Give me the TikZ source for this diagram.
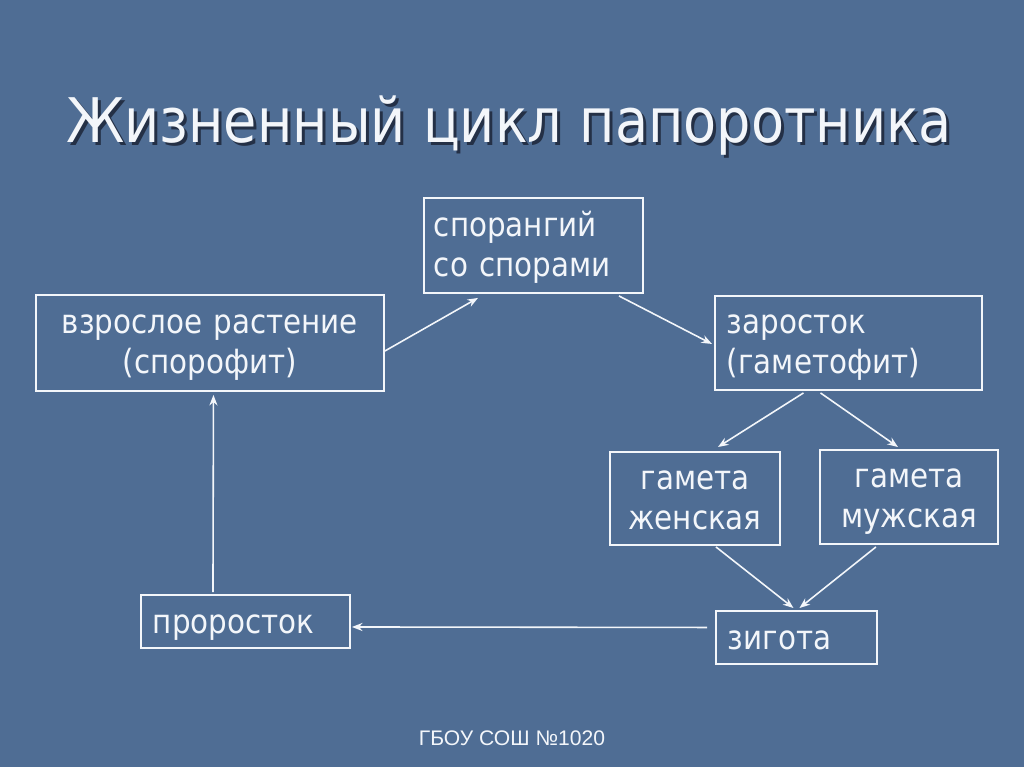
\documentclass[tikz,border=0pt]{standalone}
\usepackage{fontspec}
\setmainfont[FakeStretch = 0.88]{DejaVu Sans}
\newfontfamily\footfont{Liberation Sans}
\usetikzlibrary{arrows.meta}

\definecolor{slide}{RGB}{79,109,148}
\definecolor{chalk}{RGB}{243,246,250}
\definecolor{shade}{RGB}{36,48,70}

\begin{document}
\begin{tikzpicture}[x = 0.02cm, y = -0.02cm]

	% Definitions

	\def\U{0.02cm}	% One pixel of the slide

	\tikzset{
		box/.style = {draw = chalk, line width = 1.1pt, text = chalk, anchor = north west,
			inner ysep = 0pt, font = \fontsize{19}{22.7}\selectfont},
		twoline/.style = {text height = 26 * \U, text depth = 44 * \U},
		oneline/.style = {text height = 26 * \U, text depth = 2 * \U},
		link/.style = {draw = chalk, line width = 0.9pt, -{Stealth[length = 6pt, width = 4.6pt]}}
	}

	% Background

	\fill [slide] (0, 0) rectangle (1024, 767);

	% Title, its shadow drawn inside the same node

	\node [anchor = base west, text = chalk, font = \fontsize{35}{40}\selectfont, inner sep = 0pt] (title) at (66, 142)
		{\rlap{\hspace{0.06cm}\raisebox{-0.06cm}{\color{shade}Жизненный цикл папоротника}}Жизненный цикл папоротника};

	% Stages of the cycle

	\node [box, twoline, minimum width = 219 * \U, minimum height = 95 * \U, inner xsep = 10 * \U, text width = 199 * \U, align = left] (spor) at (423, 197) {спорангий\\со спорами};
	\node [box, twoline, minimum width = 348 * \U, minimum height = 96 * \U, inner xsep = 4 * \U, text width = 340 * \U, align = center] (adult) at (35, 294) {взрослое растение\\(спорофит)};
	\node [box, twoline, minimum width = 267 * \U, minimum height = 94 * \U, inner xsep = 12 * \U, text width = 243 * \U, align = left] (gameto) at (714, 295) {заросток\\(гаметофит)};
	\node [box, twoline, minimum width = 170 * \U, minimum height = 93 * \U, inner xsep = 4 * \U, text width = 162 * \U, align = center] (female) at (609, 451) {гамета\\женская};
	\node [box, twoline, minimum width = 178 * \U, minimum height = 94 * \U, inner xsep = 4 * \U, text width = 170 * \U, align = center] (male) at (819, 449) {гамета\\мужская};
	\node [box, oneline, minimum width = 209 * \U, minimum height = 53 * \U, inner xsep = 12 * \U, text width = 185 * \U, align = left] (sprout) at (140, 594) {проросток};
	\node [box, oneline, minimum width = 161 * \U, minimum height = 53 * \U, inner xsep = 12 * \U, text width = 137 * \U, align = left] (zygote) at (715, 610) {зигота};

	% Arrows

	\draw [link] ([yshift = -8 * \U] adult.east) -- ([xshift = 55 * \U, yshift = -4 * \U] spor.south west);
	\draw [link] ([xshift = -25 * \U, yshift = -2 * \U] spor.south east) -- ([xshift = -2 * \U, yshift = -1 * \U] gameto.west);
	\draw [link] ([xshift = -45 * \U, yshift = -2 * \U] gameto.south) -- ([xshift = 23 * \U, yshift = 4 * \U] female.north);
	\draw [link] ([xshift = -28 * \U, yshift = -2 * \U] gameto.south) -- ([xshift = -11 * \U, yshift = 2 * \U] male.north);
	\draw [link] ([xshift = 21 * \U, yshift = -1 * \U] female.south) -- ([xshift = -3 * \U, yshift = 2 * \U] zygote.north);
	\draw [link] ([xshift = -33 * \U, yshift = -2 * \U] male.south) -- ([xshift = 3 * \U, yshift = 2 * \U] zygote.north);
	\draw [link] ([xshift = -8 * \U, yshift = 10 * \U] zygote.west) -- ([xshift = 1 * \U, yshift = -5.5 * \U] sprout.east);
	\draw [link] ([xshift = -32.5 * \U, yshift = 2 * \U] sprout.north) -- ([xshift = 3.5 * \U, yshift = -3 * \U] adult.south);

	% Footer

	\node [anchor = base, text = chalk, font = \footfont\fontsize{12}{14}\selectfont] (footer) at (512, 745) {ГБОУ СОШ №1020};

\end{tikzpicture}
\end{document}
